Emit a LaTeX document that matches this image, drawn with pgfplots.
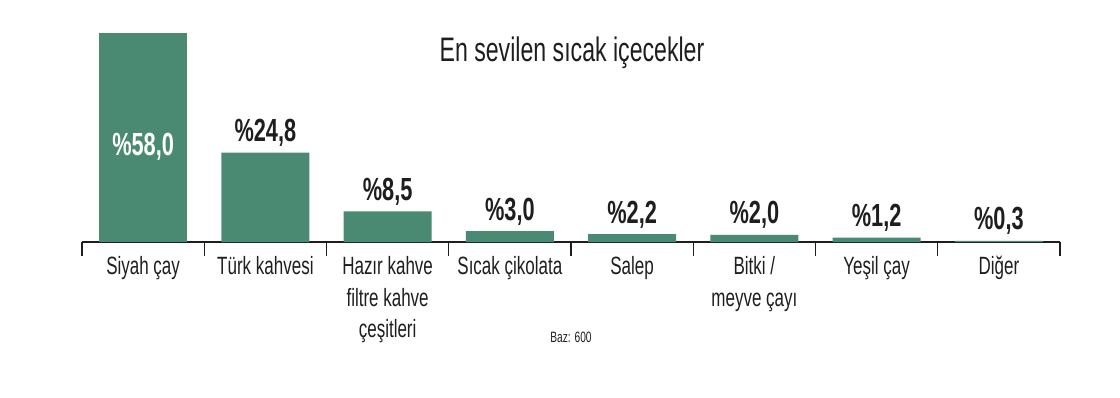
\documentclass[border=0pt]{standalone}
\usepackage{pgfplots}
\pgfplotsset{compat=1.18}
\usepackage{fontspec}
\setmainfont{Liberation Sans}[FakeStretch=0.68]
\definecolor{bargreen}{RGB}{74,138,115}
\definecolor{txt}{RGB}{30,30,30}
\begin{document}
\begin{tikzpicture}
\useasboundingbox (0,0) rectangle (1120pt,397pt);
\begin{axis}[
  at={(82pt,155pt)}, anchor=south west,
  scale only axis, width=978pt, height=209pt,
  xmin=-0.5, xmax=7.5, ymin=0, ymax=58,
  axis x line*=bottom, axis y line=none,
  x axis line style={line width=1.1pt, color=txt},
  ybar, bar width=88pt, bar shift=0pt,
  xtick={0,...,7},
  xticklabels={Siyah çay, Türk kahvesi, Hazır kahve\\filtre kahve\\çeşitleri, Sıcak çikolata, Salep, Bitki /\\meyve çayı, Yeşil çay, Diğer},
  major tick length=0pt,
  minor xtick={-0.5,0.5,...,7.5},
  minor tick length=14pt,
  xtick align=outside,
  minor tick style={line width=1.1pt, color=txt},
  xticklabel style={font=\fontsize{25}{31.5}\selectfont, color=txt, align=center, anchor=north, yshift=-11pt},
  point meta=explicit symbolic,
  clip=false,
]
\addplot[fill=bargreen, draw=none,
  nodes near coords,
  nodes near coords style={anchor=base, yshift=-122pt, font=\bfseries\fontsize{32}{32}\selectfont, color=white}]
  coordinates {(0,58.0) [\%58,0]};
\addplot[fill=bargreen, draw=none,
  nodes near coords,
  nodes near coords style={anchor=base, yshift=11pt, font=\bfseries\fontsize{32}{32}\selectfont, color=txt}]
  coordinates {(1,24.8) [\%24,8] (2,8.5) [\%8,5] (3,3.0) [\%3,0] (4,2.2) [\%2,2] (5,2.0) [\%2,0] (6,1.2) [\%1,2] (7,0.3) [\%0,3]};
\end{axis}
\node[anchor=base, font=\fontsize{34}{34}\selectfont, color=txt] at (572pt,335pt) {En sevilen sıcak içecekler};
\node[anchor=base, font=\fontsize{15}{15}\selectfont, color=txt] at (571pt,55pt) {Baz: 600};
\end{tikzpicture}
\end{document}
